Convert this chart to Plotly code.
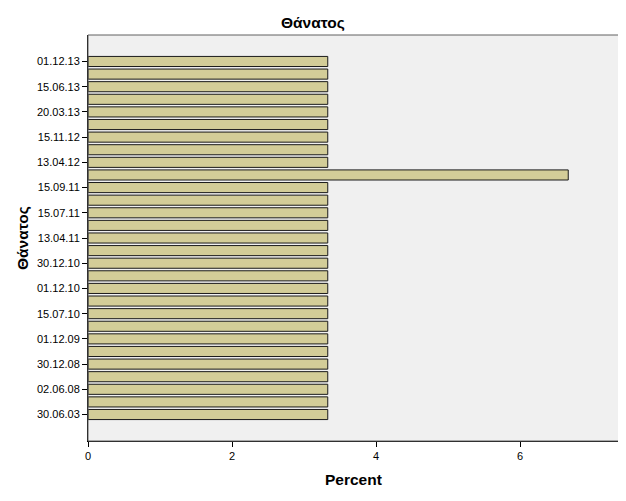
import plotly.graph_objects as go

# Category labels (top to bottom); None = bar whose label is not shown in the reference
labels = ["01.12.13", None, "15.06.13", None, "20.03.13", None, "15.11.12", None,
          "13.04.12", None, "15.09.11", None, "15.07.11", None, "13.04.11", None,
          "30.12.10", None, "01.12.10", None, "15.07.10", None, "01.12.09", None,
          "30.12.08", None, "02.06.08", None, "30.06.03"]
percent = [3.33] * 9 + [6.67] + [3.33] * 19

positions = list(range(len(labels)))
tickvals = [i for i, l in enumerate(labels) if l is not None]
ticktext = [l for l in labels if l is not None]

fig = go.Figure(go.Bar(
    x=percent, y=positions, orientation="h",
    marker=dict(color="#d3cd98", line=dict(color="#1a1a1a", width=1)),
    width=0.8,
))

fig.update_layout(
    width=612, height=485,
    margin=dict(l=80, r=1, t=27, b=52, autoexpand=False),
    paper_bgcolor="white", plot_bgcolor="#f0f0f0",
    font=dict(family="Liberation Sans, Arial, sans-serif", size=11, color="black"),
    showlegend=False,
    shapes=[dict(type="rect", xref="paper", yref="paper", x0=0, y0=0, x1=1, y1=1,
                 line=dict(color="#606060", width=1), fillcolor="rgba(0,0,0,0)", layer="above")],
    annotations=[
        dict(text="<b>Θάνατος</b>", xref="paper", yref="paper", x=0.424, y=1, yshift=13,
             xanchor="center", yanchor="middle", showarrow=False, font=dict(size=15.5)),
        dict(text="<b>Percent</b>", xref="paper", yref="paper", x=0.5, y=0, yshift=-38,
             xanchor="center", yanchor="middle", showarrow=False, font=dict(size=15.5)),
        dict(text="<b>Θάνατος</b>", xref="paper", yref="paper", x=0, xshift=-66, y=0.5,
             xanchor="center", yanchor="middle", showarrow=False, textangle=-90,
             font=dict(size=15.5)),
    ],
)
fig.update_xaxes(
    range=[0, 7.375], tickvals=[0, 2, 4, 6], ticks="outside", ticklen=5, tickcolor="black",
    showgrid=False, zeroline=False, showline=True, linecolor="black", linewidth=1,
    automargin=False,
)
fig.update_yaxes(
    range=[30.1, -2.1], tickvals=tickvals, ticktext=ticktext, ticks="outside", ticklen=5,
    tickcolor="black", showgrid=False, zeroline=False, showline=True, linecolor="black",
    linewidth=1, automargin=False,
)

fig.write_html("out.html")
